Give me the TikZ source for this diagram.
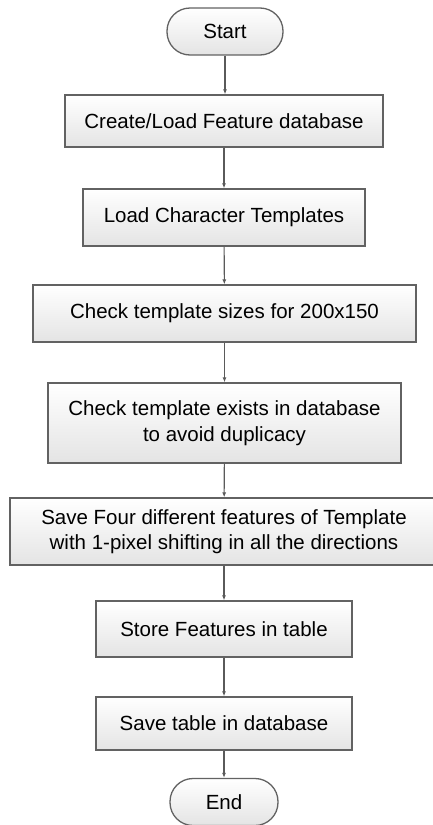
\documentclass[tikz,border=0pt]{standalone}
\usepackage{fontspec}
\setmainfont{Liberation Sans}
\usetikzlibrary{arrows.meta}

\definecolor{boxline}{HTML}{626262}
\definecolor{boxfill}{HTML}{E4E4E4}
\definecolor{lineclr}{HTML}{5A5A5A}

\tikzset{
  procbox/.style={draw=boxline, line width=1.3pt, top color=white, bottom color=boxfill,
    inner sep=0pt, align=center, font=\fontsize{20.5}{25.5}\selectfont},
  termbox/.style={procbox, rounded corners=23pt},
  flow/.style={draw=lineclr, line width=1.1pt, -{Latex[length=5pt,width=4pt]}}
}

\begin{document}
\begin{tikzpicture}[x=1pt, y=-1pt]
  \useasboundingbox (0,0) rectangle (433,825);
  \clip (0,0) rectangle (433,825);

  \node[termbox, minimum width=116pt, minimum height=47pt] (start) at (225,31.5) {Start};
  \node[procbox, minimum width=318pt, minimum height=52pt] (b1) at (224,121) {Create/Load Feature database};
  \node[procbox, minimum width=282pt, minimum height=57pt] (b2) at (224,217.5) {Load Character Templates};
  \node[procbox, minimum width=383pt, minimum height=57pt] (b3) at (224.5,313.5) {Check template sizes for 200x150};
  \node[procbox, minimum width=353pt, minimum height=80pt] (b4) at (224.5,423) {Check template exists in database\\to avoid duplicacy};
  \node[procbox, minimum width=428pt, minimum height=67pt] (b5) at (224,531.5) {Save Four different features of Template\\with 1-pixel shifting in all the directions};
  \node[procbox, minimum width=256pt, minimum height=56pt] (b6) at (224,629) {Store Features in table};
  \node[procbox, minimum width=256pt, minimum height=53pt] (b7) at (224,723.5) {Save table in database};
  \node[termbox, minimum width=108pt, minimum height=47pt] (end) at (224,802) {End};

  \draw[flow] (start.south) -- (start.south |- b1.north);
  \draw[flow] (b1) -- (b2);
  \draw[flow] (b2) -- (b3);
  \draw[flow] (b3) -- (b4);
  \draw[flow] (b4) -- (b5);
  \draw[flow] (b5) -- (b6);
  \draw[flow] (b6) -- (b7);
  \draw[flow] (b7) -- (end);
\end{tikzpicture}
\end{document}
